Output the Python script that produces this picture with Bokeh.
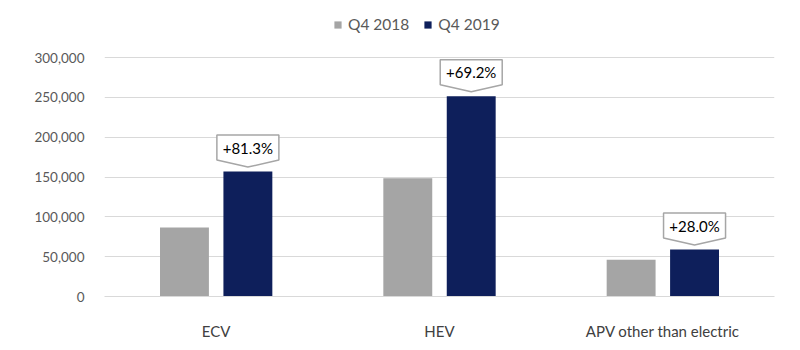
from bokeh.plotting import figure
from bokeh.models import (ColumnDataSource, FixedTicker, NumeralTickFormatter, Range1d,
                          Legend, LegendItem)
from bokeh.core.properties import value
from bokeh.embed import file_html
from bokeh.resources import INLINE

categories = ["ECV", "HEV", "APV other than electric"]
q4_2018 = [86500, 148500, 46000]
q4_2019 = [156800, 251300, 58900]
growth_labels = ["+81.3%", "+69.2%", "+28.0%"]
y_ticks = [0, 50000, 100000, 150000, 200000, 250000, 300000]
series_names = ["Q4 2018", "Q4 2019"]

GRAY = "#A5A5A5"
NAVY = "#0E1F5B"
FONT = "Lato"

W, H = 800, 350
LEFT, RIGHT, TOP, BOTTOM = 104, 26, 4, 54
AXIS_TOP_PX = 57               # pixel row of the 300,000 gridline
frame_w = W - LEFT - RIGHT
frame_h = H - TOP - BOTTOM
YMAX = 300000
axis_h = H - BOTTOM - AXIS_TOP_PX
px_x = 3.0 / frame_w           # data units per pixel (x)
px_y = YMAX / axis_h           # data units per pixel (y)
YTOP = YMAX + (AXIS_TOP_PX - TOP) * px_y

p = figure(width=W, height=H, output_backend="svg", toolbar_location=None,
           x_range=Range1d(0, 3), y_range=Range1d(0, YTOP),
           min_border_left=LEFT, min_border_right=RIGHT,
           min_border_top=TOP, min_border_bottom=BOTTOM)
p.outline_line_color = None
p.background_fill_color = "white"
p.border_fill_color = "white"

off = 0.142
bw = 0.219
xc = [i + 0.5 for i in range(len(categories))]
src = ColumnDataSource(dict(
    x1=[x - off for x in xc], x2=[x + off for x in xc],
    a=q4_2018, b=q4_2019))
r1 = p.vbar(x="x1", top="a", width=bw, source=src, fill_color=GRAY, line_color=None)
r2 = p.vbar(x="x2", top="b", width=bw, source=src, fill_color=NAVY, line_color=None)

# callouts
xs, ys, tx, ty = [], [], [], []
hw = 31 * px_x
for x, v in zip(xc, q4_2019):
    cx = x + off
    tip = v + 4.5 * px_y
    bot = tip + 7 * px_y
    top = bot + 25 * px_y
    xs.append([cx - hw, cx + hw, cx + hw, cx, cx - hw])
    ys.append([top, top, bot, tip, bot])
    tx.append(cx)
    ty.append((top + bot) / 2)
p.patches(xs=xs, ys=ys, fill_color="white", line_color="#A6A6A6", line_width=1.5)
p.text(x=tx, y=ty, text=growth_labels, text_align="center", text_baseline="middle",
       text_font=value(FONT), text_font_size="15px", text_color="#000000")

# axes
p.xaxis.ticker = FixedTicker(ticks=xc)
p.xaxis.major_label_overrides = {x: c for x, c in zip(xc, categories)}
p.xaxis.major_tick_line_color = None
p.xaxis.minor_tick_line_color = None
p.xaxis.axis_line_color = "#D9D9D9"
p.xaxis.axis_line_width = 1
p.xaxis.major_label_standoff = 19
p.xaxis.major_label_text_font = FONT
p.xaxis.major_label_text_font_size = "15px"
p.xaxis.major_label_text_color = "#404040"

p.yaxis.ticker = FixedTicker(ticks=y_ticks)
p.yaxis.formatter = NumeralTickFormatter(format="0,0")
p.yaxis.axis_line_color = None
p.yaxis.major_tick_line_color = None
p.yaxis.minor_tick_line_color = None
p.yaxis.major_label_standoff = 14
p.yaxis.major_label_text_font = FONT
p.yaxis.major_label_text_font_size = "13.5px"
p.yaxis.major_label_text_color = "#595959"

p.xgrid.grid_line_color = None
p.ygrid.ticker = FixedTicker(ticks=y_ticks)
p.ygrid.grid_line_color = "#D9D9D9"
p.ygrid.grid_line_width = 1

lg = Legend(items=[LegendItem(label=series_names[0], renderers=[r1]),
                   LegendItem(label=series_names[1], renderers=[r2])])
lg.orientation = "horizontal"
lg.location = (229, (H - BOTTOM) - 20 - 9 - TOP)
lg.border_line_color = None
lg.background_fill_alpha = 0
lg.padding = 0
lg.margin = 0
lg.spacing = 14
lg.glyph_width = 9
lg.glyph_height = 9
lg.label_standoff = 6
lg.label_width = 58
lg.label_text_font = FONT
lg.label_text_font_size = "15.5px"
lg.label_text_color = "#595959"
lg.label_height = 18
p.add_layout(lg, "center")

open("out.html", "w").write(file_html(p, INLINE))
